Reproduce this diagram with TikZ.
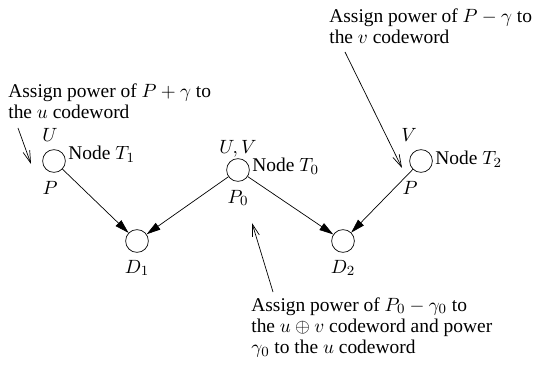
\documentclass[tikz,border=0pt]{standalone}
\usepackage{amsmath}
\usepackage{fontspec}
\setmainfont{Liberation Serif}
\usetikzlibrary{arrows.meta}

\begin{document}
\begin{tikzpicture}[x=0.571pt,y=-0.571pt,
                    font=\fontsize{11.1}{12.2}\selectfont,
                    station/.style={draw,circle,inner sep=0pt,minimum size=13pt},
                    tag/.style={anchor=west,inner sep=0pt},
                    feed/.style={-{Triangle[length=8pt,width=4.6pt]}},
                    hint/.style={-{Straight Barb[length=7pt,width=4pt]}},
                    remark/.style={align=left,inner sep=0pt,anchor=north west}]
                    \useasboundingbox(0,0)rectangle(534,375);
                    \node[station](T1)at(54,161){};
                    \node[station](T0)at(238,170){};
                    \node[station](T2)at(421,161){};
                    \node[station](D1)at(137,241){};
                    \node[station](D2)at(343,241){};
                    \draw[feed](T1)--(D1);
                    \draw[feed](T0)--(D1);
                    \draw[feed](T0)--(D2);
                    \draw[feed](T2)--(D2);
                    \node(U1)at(50,135){$U$};
                    \node(P1)at(50,188){$P$};
                    \node[tag](N1)at(68,154){Node $T_1$};
                    \node(UV)at(238,149){$U,V$};
                    \node(P0)at(238,198){$P_0$};
                    \node[tag](N0)at(252,166){Node $T_0$};
                    \node(V2)at(409,135){$V$};
                    \node(P2)at(410,188){$P$};
                    \node[tag](N2)at(435,159){Node $T_2$};
                    \node(L1)at(137,268){$D_1$};
                    \node(L2)at(343,268){$D_2$};
                    % notes
                    \node[remark](R1)at(8,83){Assign power of $P+\gamma$ to\\the $u$ codeword};
                    \node[remark](R2)at(329,8){Assign power of $P-\gamma$ to\\the $v$ codeword};
                    \node[remark](R0)at(251,297){Assign power of $P_0-\gamma_0$ to\\
                      the $u\oplus v$ codeword and power\\$\gamma_0$ to the $u$ codeword};
                    \coordinate(h1)at(18,128);
                    \coordinate(e1)at(31,164);
                    \coordinate(h2)at(345,52);
                    \coordinate(e2)at(402,168);
                    \coordinate(h0)at(273,292);
                    \coordinate(e0)at(252,223);
                    \draw[hint](h1)--(e1);
                    \draw[hint](h2)--(e2);
                    \draw[hint](h0)--(e0);
                \end{tikzpicture}
\end{document}
